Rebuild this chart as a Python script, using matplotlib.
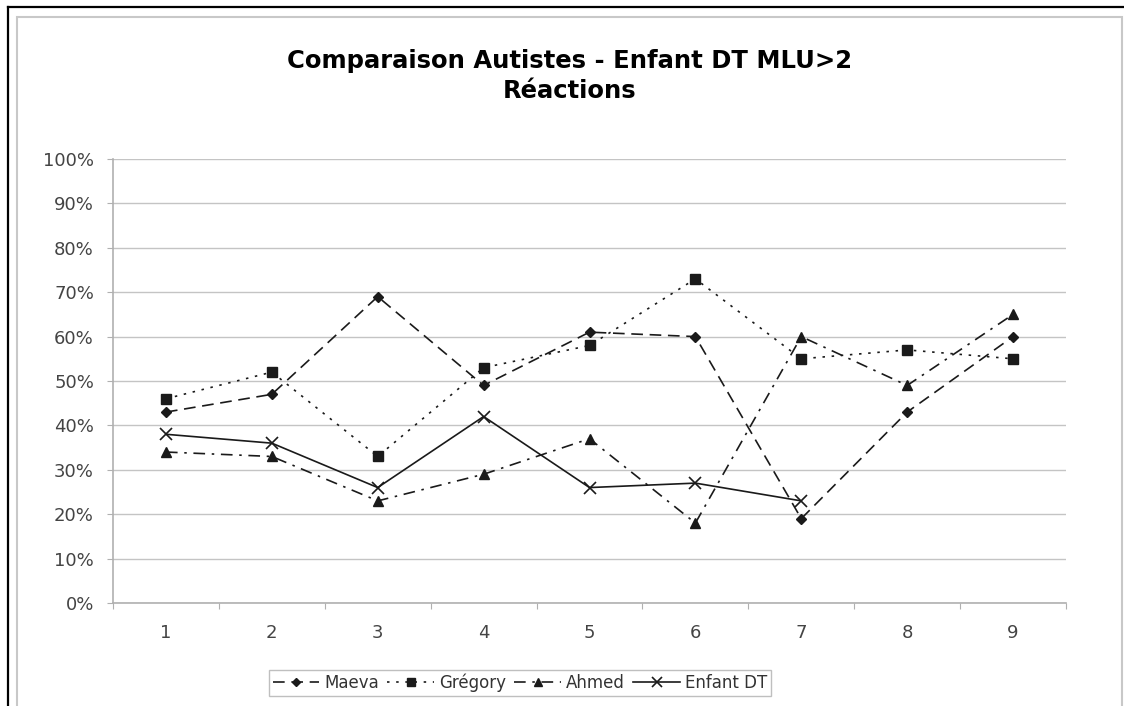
import matplotlib
matplotlib.use("Agg")
import matplotlib.pyplot as plt
import numpy as np
from matplotlib.lines import Line2D
from matplotlib.patches import Rectangle
from matplotlib.ticker import FixedLocator, PercentFormatter

categories = [1, 2, 3, 4, 5, 6, 7, 8, 9]
maeva = [43, 47, 69, 49, 61, 60, 19, 43, 60]
gregory = [46, 52, 33, 53, 58, 73, 55, 57, 55]
ahmed = [34, 33, 23, 29, 37, 18, 60, 49, 65]
enfant_dt = [38, 36, 26, 42, 26, 27, 23, np.nan, np.nan]
title = "Comparaison Autistes - Enfant DT MLU>2\nRéactions"

W, H = 1124, 706
fig = plt.figure(figsize=(W / 100, H / 100), dpi=100)
plt.rcParams['font.family'] = ['DejaVu Sans']

def fx(px):
    return px / W

def fy(py):
    return 1 - py / H

# outer frames
fig.add_artist(Line2D([fx(8), fx(8)], [fy(7), 0], color='black', lw=1.6, transform=fig.transFigure))
fig.add_artist(Line2D([fx(8), 1], [fy(7), fy(7)], color='black', lw=1.6, transform=fig.transFigure))
fig.add_artist(Rectangle((fx(17), -0.01), fx(1122) - fx(17), fy(17) + 0.01, fill=False,
                         edgecolor='#c8c8c8', lw=1.5, transform=fig.transFigure))

left, right, top, bottom = 113, 1066, 159, 603
ax = fig.add_axes([fx(left), fy(bottom), fx(right) - fx(left), fy(top) - fy(bottom)])

x = np.array(categories)
lc = '#1a1a1a'
ax.plot(x, maeva, color=lc, lw=1.2, linestyle=(0, (7, 4)), marker='D', markersize=5, label='Maeva')
ax.plot(x, gregory, color=lc, lw=1.2, linestyle=(0, (1.5, 4)), marker='s', markersize=7, label='Grégory')
ax.plot(x, ahmed, color=lc, lw=1.2, linestyle=(0, (7, 4, 1.5, 4)), marker='^', markersize=7, label='Ahmed')
ax.plot(x, enfant_dt, color=lc, lw=1.2, linestyle='-', marker='x', markersize=9, markeredgewidth=1.2, label='Enfant DT')

ax.set_xlim(0.5, 9.5)
ax.set_ylim(0, 100)
ax.yaxis.set_major_locator(FixedLocator(np.arange(0, 101, 10)))
ax.yaxis.set_major_formatter(PercentFormatter(decimals=0))
ax.grid(axis='y', color='#c4c4c4', lw=1.0)
ax.set_axisbelow(True)

ax.xaxis.set_major_locator(FixedLocator(np.arange(0.5, 9.6, 1)))
ax.xaxis.set_minor_locator(FixedLocator(x))
ax.set_xticklabels([])
ax.set_xticklabels([str(c) for c in categories], minor=True)
ax.tick_params(axis='x', which='major', length=4.3, color='#b0b0b0', direction='out')
ax.tick_params(axis='x', which='minor', length=0, pad=15, labelsize=13, labelcolor='#444444')
ax.tick_params(axis='y', length=4.3, color='#b0b0b0', labelsize=13, labelcolor='#444444', pad=9.4)

for s in ['top', 'right']:
    ax.spines[s].set_visible(False)
for s in ['left', 'bottom']:
    ax.spines[s].set_color('#b0b0b0')
    ax.spines[s].set_linewidth(1.2)

fig.text(fx(570), fy(76), title, ha='center', va='center', fontsize=17.5,
         fontweight='bold', linespacing=1.3, color='black')

leg = fig.legend(loc='center', bbox_to_anchor=(fx(520), fy(683)), ncol=4, frameon=True,
                 fancybox=False, edgecolor='#b0b0b0', fontsize=12, handlelength=2.8,
                 columnspacing=0.5, handletextpad=0.3, borderpad=0.25, markerscale=0.8)
for t in leg.get_texts():
    t.set_color('#333333')
leg.get_frame().set_linewidth(1.0)

fig.savefig('out.png', dpi=100)
